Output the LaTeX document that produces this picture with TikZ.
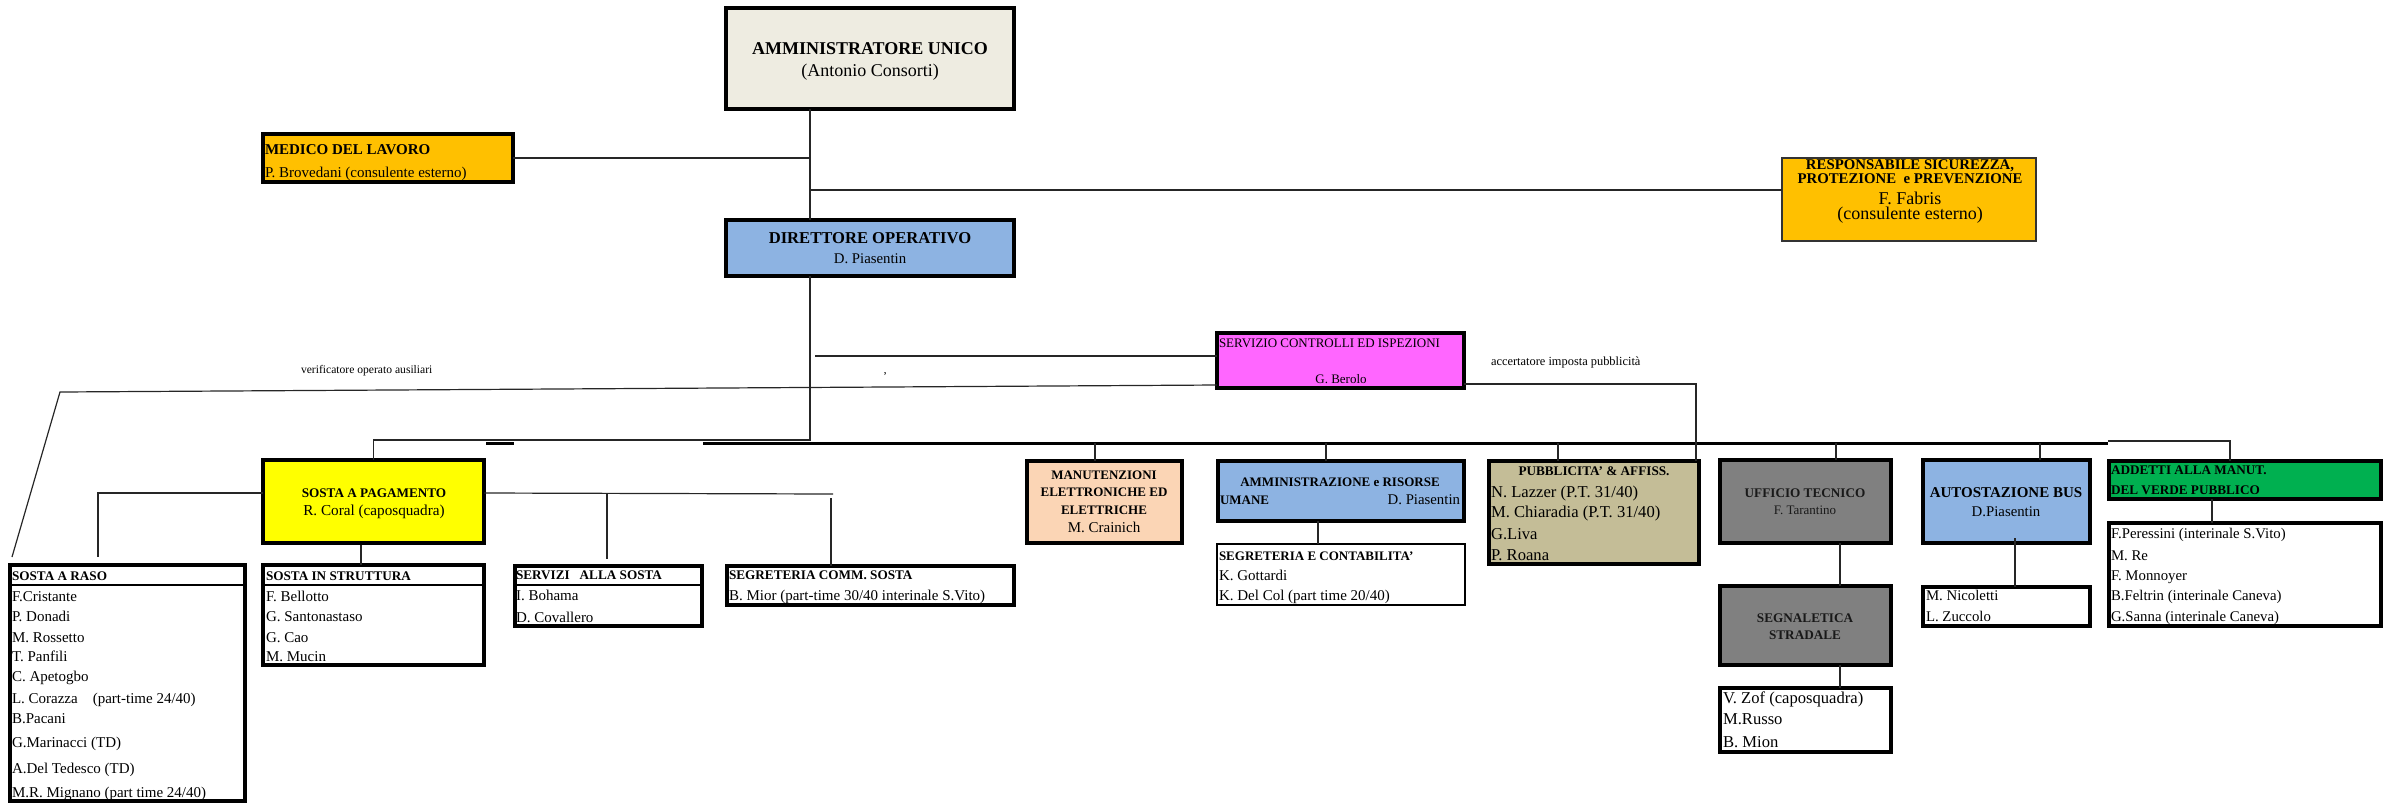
\documentclass[tikz,border=0pt]{standalone}
\usepackage{fontspec}
\setmainfont{Liberation Serif}
\definecolor{auc}{HTML}{EEECE1}
\definecolor{orc}{HTML}{FFC000}
\definecolor{blc}{HTML}{8DB3E2}
\definecolor{mgc}{HTML}{FF66FF}
\definecolor{ylc}{HTML}{FFFF00}
\definecolor{pcc}{HTML}{FBD5B5}
\definecolor{khc}{HTML}{C4BD97}
\definecolor{grc}{HTML}{808080}
\definecolor{gnc}{HTML}{00B050}
\newcommand\myfs[1]{\fontsize{#1}{#1}\selectfont}
% style, name, x1, y1, x2, y2, line width (pt)
\newcommand\mkbox[7]{%
  \pgfmathsetmacro\bxcx{(#3+#5)/2}%
  \pgfmathsetmacro\bxcy{(#4+#6)/2}%
  \pgfmathsetmacro\bxw{(#5-#3)*0.5-#7}%
  \pgfmathsetmacro\bxh{(#6-#4)*0.5-#7}%
  \node[#1, line width=#7pt, minimum width=\bxw pt, minimum height=\bxh pt] (#2) at (\bxcx,\bxcy) {};}
\begin{document}
\begin{tikzpicture}[x=0.5pt,y=-0.5pt,
  bx/.style={draw=black, inner sep=0pt, outer sep=0pt, rectangle},
  conn/.style={line width=0.6pt, draw=black!85},
  bus/.style={line width=1.5pt},
  divl/.style={line width=1.4pt},
  txl/.style={anchor=base west, inner sep=0pt, outer sep=0pt},
  txc/.style={anchor=base, inner sep=0pt, outer sep=0pt},
  txr/.style={anchor=base east, inner sep=0pt, outer sep=0pt},
  hb/.style={font=\bfseries\myfs{6.6}},
  li/.style={font=\myfs{7.5}}]
\useasboundingbox (0,0) rectangle (2386,804);

% ---------- boxes ----------
\mkbox{bx, fill=auc}{AU}{724}{6}{1016}{111}{2}
\mkbox{bx, fill=orc}{MED}{261}{132}{515}{184}{2}
\mkbox{bx, fill=orc, draw=black!80}{RSPP}{1781}{157}{2037}{242}{0.8}
\mkbox{bx, fill=blc}{DIR}{724}{218}{1016}{278}{2}
\mkbox{bx, fill=mgc}{SCI}{1215}{331}{1466}{390}{2}
\mkbox{bx, fill=ylc}{SP}{261}{458}{486}{545}{2}
\mkbox{bx, fill=pcc}{MAN}{1025}{459}{1184}{545}{2}
\mkbox{bx, fill=blc}{AMM}{1216}{459}{1466}{523}{2}
\mkbox{bx, fill=khc}{PUB}{1487}{459}{1701}{566}{2}
\mkbox{bx, fill=grc}{UFF}{1718}{458}{1893}{545}{2}
\mkbox{bx, fill=blc}{AUTO}{1921}{458}{2092}{545}{2}
\mkbox{bx, fill=gnc}{ADD}{2107}{459}{2383}{501}{2}
\mkbox{bx, fill=white}{RASO}{8}{563}{247}{803}{2}
\mkbox{bx, fill=white}{STR}{261}{563}{486}{667}{2}
\mkbox{bx, fill=white}{SERV}{513}{564}{704}{628}{2}
\mkbox{bx, fill=white}{SCOMM}{725}{564}{1016}{607}{2}
\mkbox{bx, fill=white}{SEGC}{1216}{543}{1466}{606}{1}
\mkbox{bx, fill=grc}{SEGN}{1718}{584}{1893}{667}{2}
\mkbox{bx, fill=white}{ZOF}{1718}{686}{1893}{754}{2}
\mkbox{bx, fill=white}{NIC}{1921}{585}{2092}{628}{2}
\mkbox{bx, fill=white}{PER}{2107}{521}{2383}{628}{2}

% header dividers
\coordinate (dv) at (0,585);
\draw[divl] (RASO.west |- dv) -- (RASO.east |- dv);
\draw[divl] (STR.west |- dv) -- (STR.east |- dv);
\draw[divl] (SERV.west |- dv) -- (SERV.east |- dv);

% ---------- connectors ----------
\coordinate (tA) at (810,157);
\coordinate (tB) at (810,190);
\coordinate (tC) at (810,440);
\draw[conn] (AU.south -| tA) -- (DIR.north -| tA);
\draw[conn] (MED.east) -- (MED.east -| tA);
\draw[conn] (tB) -- (tB -| RSPP.west);
\draw[conn] (DIR.south -| tC) -- (tC) -- (tC -| SP.north) -- (SP.north);
\coordinate (s1) at (486,443);
\coordinate (s2) at (514,443);
\draw[bus] (s1) -- (s2);
\coordinate (b1) at (703,443);
\coordinate (b2) at (2108,443);
\draw[bus] (b1) -- (b2);
\coordinate (dM) at (1095,443);
\coordinate (dA) at (1326,443);
\coordinate (dP) at (1558,443);
\coordinate (dU) at (1836,443);
\coordinate (dB) at (2040,443);
\draw[conn] (dM) -- (dM |- MAN.north);
\draw[conn] (dA) -- (dA |- AMM.north);
\draw[conn] (dP) -- (dP |- PUB.north);
\draw[conn] (dU) -- (dU |- UFF.north);
\draw[conn] (dB) -- (dB |- AUTO.north);
\coordinate (b3) at (2230,441);
\draw[conn] (b2 |- b3) -- (b3) -- (b3 |- ADD.north);
% servizio controlli lines
\coordinate (u1) at (815,356);
\draw[conn] (u1) -- (u1 -| SCI.west);
\coordinate (l0) at (0,385);
\coordinate (l1) at (60,392);
\coordinate (l2) at (12,557);
\draw[conn] (SCI.west |- l0) -- (l1) -- (l2);
\coordinate (r1) at (1696,384);
\draw[conn] (SCI.east |- r1) -- (r1) -- (r1 |- PUB.north);
% sosta a pagamento branches
\coordinate (p1) at (98,493);
\coordinate (p2) at (98,557);
\draw[conn] (SP.west |- p1) -- (p1) -- (p2);
\coordinate (p3) at (361,545);
\draw[conn] (p3) -- (p3 |- STR.north);
\coordinate (p4) at (833,494);
\draw[conn] (SP.east |- p1) -- (p4);
\coordinate (p5) at (607,493);
\coordinate (p5b) at (607,559);
\draw[conn] (p5) -- (p5b);
\coordinate (p6) at (831,498);
\draw[conn] (p6) -- (p6 |- SCOMM.north);
% other vertical links
\coordinate (a1) at (1318,0);
\draw[conn] (AMM.south -| a1) -- (SEGC.north -| a1);
\coordinate (g1) at (1840,0);
\draw[conn] (UFF.south -| g1) -- (SEGN.north -| g1);
\draw[conn] (SEGN.south -| g1) -- (ZOF.north -| g1);
\coordinate (n1) at (2015,538);
\draw[conn] (n1) -- (n1 |- NIC.north);
\coordinate (e1) at (2212,0);
\draw[conn] (ADD.south -| e1) -- (PER.north -| e1);

% ---------- texts ----------
\node[txc, font=\bfseries\myfs{9}] (xAU1) at (870,54) {AMMINISTRATORE UNICO};
\node[txc, font=\myfs{9}] (xAU2) at (870,76) {(Antonio Consorti)};
\node[txc, font=\bfseries\myfs{8.3}] (xDIR1) at (870,243) {DIRETTORE OPERATIVO};
\node[txc, font=\myfs{7.4}] (xDIR2) at (870,263) {D. Piasentin};
\node[txl, font=\bfseries\myfs{7.5}] (xMED1) at (265,154) {MEDICO DEL LAVORO};
\node[txl, font=\myfs{7.5}] (xMED2) at (265,177) {P. Brovedani (consulente esterno)};
\node[txc, font=\bfseries\myfs{7.4}] (xRS1) at (1910,169) {RESPONSABILE SICUREZZA,};
\node[txc, font=\bfseries\myfs{7.4}] (xRS2) at (1910,183) {PROTEZIONE\ \ e PREVENZIONE};
\node[txc, font=\myfs{9}] (xRS3) at (1910,204) {F. Fabris};
\node[txc, font=\myfs{9}] (xRS4) at (1910,219) {(consulente esterno)};
\node[txl, font=\myfs{6.5}] (xSC1) at (1219,347) {SERVIZIO CONTROLLI ED ISPEZIONI};
\node[txc, font=\myfs{6.5}] (xSC2) at (1341,383) {G. Berolo};
\node[txl, font=\myfs{6.2}] (xacc) at (1491,365) {accertatore imposta pubblicità};
\node[txl, font=\myfs{5.8}] (xver) at (301,373) {verificatore operato ausiliari};
\node[txc, font=\myfs{6}] (xtick) at (885,380) {'};

\node[txc, hb] (xSP1) at (374,497) {SOSTA A PAGAMENTO};
\node[txc, font=\myfs{7.6}] (xSP2) at (374,515) {R. Coral (caposquadra)};

\node[txl, hb] (xRA0) at (12,580) {SOSTA A RASO};
\node[txl, li] (xRA1) at (12,601) {F.Cristante};
\node[txl, li] (xRA2) at (12,621) {P. Donadi};
\node[txl, li] (xRA3) at (12,642) {M. Rossetto};
\node[txl, li] (xRA4) at (12,661) {T. Panfili};
\node[txl, li] (xRA5) at (12,681) {C. Apetogbo};
\node[txl, li] (xRA6) at (12,703) {L. Corazza\hspace{7.5pt}(part-time 24/40)};
\node[txl, li] (xRA7) at (12,723) {B.Pacani};
\node[txl, li] (xRA8) at (12,747) {G.Marinacci (TD)};
\node[txl, li] (xRA9) at (12,773) {A.Del Tedesco (TD)};
\node[txl, li] (xRA10) at (12,797) {M.R. Mignano (part time 24/40)};

\node[txl, hb] (xST0) at (266,580) {SOSTA IN STRUTTURA};
\node[txl, li] (xST1) at (266,601) {F. Bellotto};
\node[txl, li] (xST2) at (266,621) {G. Santonastaso};
\node[txl, li] (xST3) at (266,642) {G. Cao};
\node[txl, li] (xST4) at (266,661) {M. Mucin};

\node[txl, hb] (xSV0) at (516,579) {SERVIZI\ \ \ ALLA SOSTA};
\node[txl, li] (xSV1) at (516,600) {I. Bohama};
\node[txl, li] (xSV2) at (516,622) {D. Covallero};

\node[txl, hb] (xSC0) at (729,579) {SEGRETERIA COMM. SOSTA};
\node[txl, li] (xSCa) at (729,600) {B. Mior (part-time 30/40 interinale S.Vito)};

\node[txc, font=\bfseries\myfs{6.5}] (xMA1) at (1104,479) {MANUTENZIONI};
\node[txc, font=\bfseries\myfs{6.5}] (xMA2) at (1104,496) {ELETTRONICHE ED};
\node[txc, font=\bfseries\myfs{6.5}] (xMA3) at (1104,514) {ELETTRICHE};
\node[txc, li] (xMA4) at (1104,532) {M. Crainich};

\node[txc, font=\bfseries\myfs{6.5}] (xAM1) at (1340,486) {AMMINISTRAZIONE e RISORSE};
\node[txl, font=\bfseries\myfs{6.5}] (xAM2) at (1220,504) {UMANE};
\node[txr, font=\myfs{7.4}] (xAM3) at (1460,504) {D. Piasentin};

\node[txl, font=\bfseries\myfs{6.5}] (xSG0) at (1219,560) {SEGRETERIA E CONTABILITA'};
\node[txl, li] (xSG1) at (1219,580) {K. Gottardi};
\node[txl, li] (xSG2) at (1219,600) {K. Del Col (part time 20/40)};

\node[txc, hb] (xPU0) at (1594,475) {PUBBLICITA' \& AFFISS.};
\node[txl, font=\myfs{8.3}] (xPU1) at (1491,497) {N. Lazzer (P.T. 31/40)};
\node[txl, font=\myfs{8.3}] (xPU2) at (1491,517) {M. Chiaradia (P.T. 31/40)};
\node[txl, font=\myfs{8.3}] (xPU3) at (1491,539) {G.Liva};
\node[txl, font=\myfs{8.3}] (xPU4) at (1491,560) {P. Roana};

\node[txc, hb, text=black!90] (xUF1) at (1805,497) {UFFICIO TECNICO};
\node[txc, font=\myfs{6.5}, text=black!90] (xUF2) at (1805,514) {F. Tarantino};
\node[txc, hb, text=black!90] (xSN1) at (1805,622) {SEGNALETICA};
\node[txc, hb, text=black!90] (xSN2) at (1805,639) {STRADALE};

\node[txl, font=\myfs{8.3}] (xZ1) at (1723,703) {V. Zof (caposquadra)};
\node[txl, font=\myfs{8.3}] (xZ2) at (1723,724) {M.Russo};
\node[txl, font=\myfs{8.3}] (xZ3) at (1723,747) {B. Mion};

\node[txc, font=\bfseries\myfs{7.5}] (xAU3) at (2006,497) {AUTOSTAZIONE BUS};
\node[txc, font=\myfs{7.4}] (xAU4) at (2006,516) {D.Piasentin};
\node[txl, font=\myfs{7.4}] (xNI1) at (1926,600) {M. Nicoletti};
\node[txl, font=\myfs{7.4}] (xNI2) at (1926,621) {L. Zuccolo};

\node[txl, hb] (xAD1) at (2111,474) {ADDETTI ALLA MANUT.};
\node[txl, hb] (xAD2) at (2111,494) {DEL VERDE PUBBLICO};
\node[txl, font=\myfs{7.4}] (xPE1) at (2111,538) {F.Peressini (interinale S.Vito)};
\node[txl, font=\myfs{7.4}] (xPE2) at (2111,560) {M. Re};
\node[txl, font=\myfs{7.4}] (xPE3) at (2111,580) {F. Monnoyer};
\node[txl, font=\myfs{7.4}] (xPE4) at (2111,600) {B.Feltrin (interinale Caneva)};
\node[txl, font=\myfs{7.4}] (xPE5) at (2111,621) {G.Sanna (interinale Caneva)};
\end{tikzpicture}
\end{document}
